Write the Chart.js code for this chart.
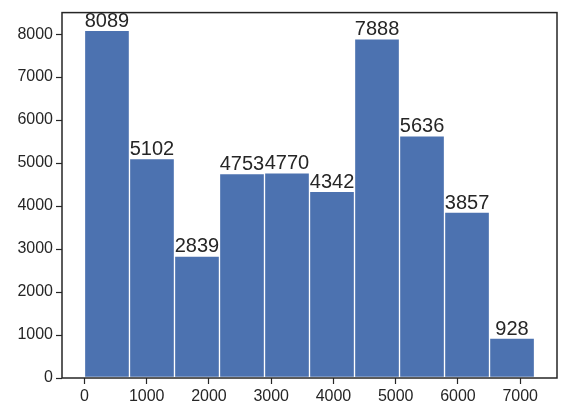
<!DOCTYPE html>
<html><head><meta charset="utf-8">
<script src="https://cdn.jsdelivr.net/npm/chart.js@4"></script>
<style>html,body{margin:0;padding:0;background:#fff}#w{width:565px;height:415px}</style>
</head><body><div id="w"><canvas id="c"></canvas></div>
<script>
const binStart = 0;
const binWidth = 723;
const counts = [8089, 5102, 2839, 4753, 4770, 4342, 7888, 5636, 3857, 928];
const xTicks = [0,1000,2000,3000,4000,5000,6000,7000];
const yTicks = [0,1000,2000,3000,4000,5000,6000,7000,8000];
const data = counts.map((v,i)=>({x: binStart + binWidth*(i+0.5), y: v}));
const ink = '#262626';
const fam = '"Liberation Sans", Arial, sans-serif';
const frame = {id:'frame', afterDraw(ch){const a=ch.chartArea,c=ch.ctx;c.save();c.strokeStyle=ink;c.lineWidth=1.5;c.strokeRect(a.left,a.top,a.right-a.left,a.bottom-a.top);c.restore();}};
const labels = {id:'labels', afterDatasetsDraw(ch){const c=ch.ctx,m=ch.getDatasetMeta(0);c.save();c.fillStyle=ink;c.font='20px '+fam;c.textAlign='center';c.textBaseline='bottom';m.data.forEach((el,i)=>c.fillText(String(counts[i]),el.x,el.y+1));c.restore();}};
new Chart(document.getElementById('c'),{
 type:'bar',
 data:{datasets:[{data, backgroundColor:'#4c72b0', borderColor:'#ffffff', borderWidth:1, barPercentage:1, categoryPercentage:1, borderSkipped:false}]},
 options:{responsive:true, maintainAspectRatio:false, animation:false,
  layout:{padding:{left:0,right:8,top:8,bottom:0}},
  plugins:{legend:{display:false},tooltip:{enabled:false}},
  scales:{
   x:{type:'linear', offset:false, min:-361, max:7591, border:{display:false},
     afterBuildTicks(s){s.ticks=xTicks.map(v=>({value:v}));},
     afterFit(s){s.height=37;},
     ticks:{color:ink, font:{family:fam,size:16}, maxRotation:0, autoSkip:false, callback:v=>String(v)},
     grid:{display:true, offset:false, drawOnChartArea:false, tickLength:6, color:ink, tickColor:ink, tickWidth:1.2}},
   y:{min:0, max:8500, border:{display:false},
     afterBuildTicks(s){s.ticks=yTicks.map(v=>({value:v}));},
     afterFit(s){s.width=62;},
     ticks:{color:ink, font:{family:fam,size:16}, autoSkip:false, callback:v=>String(v)},
     grid:{display:true, drawOnChartArea:false, tickLength:6, color:ink, tickColor:ink, tickWidth:1.2}}
  }},
 plugins:[frame,labels]
});
</script></body></html>
